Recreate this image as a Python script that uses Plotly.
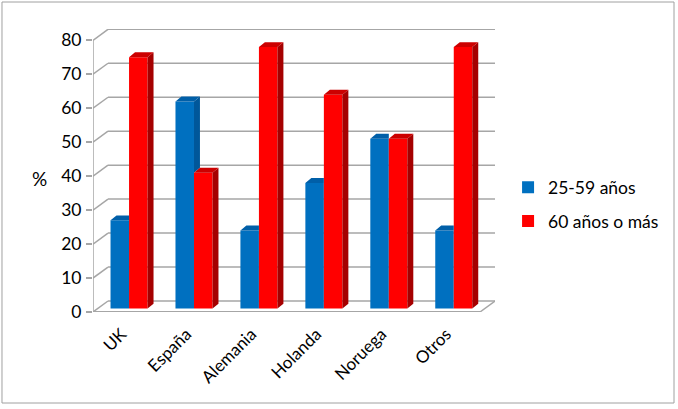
import plotly.graph_objects as go

# ---- data ----
categories = ["UK", "España", "Alemania", "Holanda", "Noruega", "Otros"]
serie_25_59 = [26, 61, 23, 37, 50, 23]
serie_60_mas = [74, 40, 77, 63, 50, 77]
series_names = ["25-59 años", "60 años o más"]
y_ticks = [0, 10, 20, 30, 40, 50, 60, 70, 80]

# ---- style / geometry of the pseudo-3D look ----
FONT = "Lato"
BLUE, BLUE_SIDE, BLUE_TOP = "#0070C0", "#00579A", "#005FA8"
RED, RED_SIDE, RED_TOP = "#FF0000", "#A50000", "#CC0000"
GRID = "#A6A6A6"

X0, X1 = -0.54, 5.65        # x range
Y1 = 83.33                   # y range top
WALL_DX, WALL_DY = 0.231, 3.24   # back wall offset
BAR_BASE = 1.0               # bars sit mid-depth
BAR_W = 0.285
OFF_BLUE, OFF_RED = -0.27, 0.015
DDX, DDY = 0.092, 1.45       # bar depth
LABEL_SHIFT = -0.1

n = len(categories)
xs = list(range(n))

fig = go.Figure()

# front faces
fig.add_trace(go.Bar(x=xs, y=serie_25_59, base=BAR_BASE, width=BAR_W, offset=OFF_BLUE,
                     marker=dict(color=BLUE, line=dict(width=0)), name=series_names[0],
                     legendgroup="a", hoverinfo="skip"))
fig.add_trace(go.Bar(x=xs, y=serie_60_mas, base=BAR_BASE, width=BAR_W, offset=OFF_RED,
                     marker=dict(color=RED, line=dict(width=0)), name=series_names[1],
                     legendgroup="b", hoverinfo="skip"))


def poly_trace(pts_list, color):
    px, py = [], []
    for pts in pts_list:
        for (a, b) in pts:
            px.append(a)
            py.append(b)
        px.append(pts[0][0]); py.append(pts[0][1])
        px.append(None); py.append(None)
    return go.Scatter(x=px, y=py, mode="lines", fill="toself", fillcolor=color,
                      line=dict(width=0, color=color), showlegend=False, hoverinfo="skip")


# blue side + top faces (clipped where hidden by red bar)
blue_sides, blue_tops = [], []
for i, (vb, vr) in enumerate(zip(serie_25_59, serie_60_mas)):
    xl = i + OFF_BLUE
    xr = xl + BAR_W
    tb = BAR_BASE + vb
    if vb > vr:
        ylo = BAR_BASE + vr
        blue_sides.append([(xr, ylo), (xr + DDX, ylo + DDY), (xr + DDX, tb + DDY), (xr, tb)])
        blue_tops.append([(xl, tb), (xl + DDX, tb + DDY), (xr + DDX, tb + DDY), (xr, tb)])
    else:
        blue_tops.append([(xl, tb), (xl + DDX, tb + DDY), (xr, tb + DDY), (xr, tb)])
fig.add_trace(poly_trace(blue_sides, BLUE_SIDE))
fig.add_trace(poly_trace(blue_tops, BLUE_TOP))

red_sides, red_tops = [], []
for i, vr in enumerate(serie_60_mas):
    xl = i + OFF_RED
    xr = xl + BAR_W
    tr = BAR_BASE + vr
    red_sides.append([(xr, BAR_BASE), (xr + DDX, BAR_BASE + DDY), (xr + DDX, tr + DDY), (xr, tr)])
    red_tops.append([(xl, tr), (xl + DDX, tr + DDY), (xr + DDX, tr + DDY), (xr, tr)])
fig.add_trace(poly_trace(red_sides, RED_SIDE))
fig.add_trace(poly_trace(red_tops, RED_TOP))

# walls, floor and gridlines
shapes = []
for v in y_ticks:
    shapes.append(dict(type="line", xref="x", yref="y", x0=X0, y0=v, x1=X0 + WALL_DX, y1=v + WALL_DY,
                       line=dict(color=GRID, width=1.5), layer="below"))
    shapes.append(dict(type="line", xref="x", yref="y", x0=X0 + WALL_DX, y0=v + WALL_DY, x1=X1, y1=v + WALL_DY,
                       line=dict(color=GRID, width=1.5), layer="below"))
# floor front edge and right diagonal
shapes.append(dict(type="line", xref="x", yref="y", x0=X0, y0=0, x1=X1 - WALL_DX, y1=0,
                   line=dict(color=GRID, width=2), layer="below"))
shapes.append(dict(type="line", xref="x", yref="y", x0=X1 - WALL_DX, y0=0, x1=X1, y1=WALL_DY,
                   line=dict(color=GRID, width=1.5), layer="below"))
# vertical axis line
shapes.append(dict(type="line", xref="x", yref="y", x0=X0, y0=0, x1=X0, y1=max(y_ticks),
                   line=dict(color=GRID, width=1.5), layer="below"))
# outer chart border
shapes.append(dict(type="rect", xref="paper", yref="paper", x0=-0.2264, y0=-0.3216, x1=1.4453, y1=1.0954,
                   line=dict(color="#A0A0A0", width=1), layer="below"))

fig.update_layout(
    width=678, height=409,
    margin=dict(l=93, r=183, t=29, b=97),
    paper_bgcolor="white", plot_bgcolor="white",
    barmode="overlay",
    font=dict(family=FONT, size=17, color="black"),
    shapes=shapes,
    showlegend=True,
    legend=dict(x=1.0325, y=0.38, xanchor="left", yanchor="middle",
                font=dict(family=FONT, size=17.5, color="black"),
                tracegroupgap=8, bgcolor="rgba(0,0,0,0)"),
    annotations=[dict(text="%", xref="paper", yref="y", x=-0.132, y=39.3, showarrow=False,
                      xanchor="center", yanchor="middle",
                      font=dict(family=FONT, size=19, color="black"))],
)
fig.update_xaxes(range=[X0, X1], tickvals=[i + LABEL_SHIFT for i in xs], ticktext=categories,
                 tickangle=-45, showgrid=False, zeroline=False, showline=False, ticks="",
                 ticklabelstandoff=8,
                 tickfont=dict(family=FONT, size=17, color="black"))
fig.update_yaxes(range=[0, Y1], tickvals=y_ticks, showgrid=False, zeroline=False, showline=False,
                 ticks="outside", ticklen=6, tickcolor=GRID, tickwidth=1.5,
                 ticklabelstandoff=1,
                 tickfont=dict(family=FONT, size=17.5, color="black"))

fig.write_html("out.html", config={"displayModeBar": False},
               post_script="document.body.style.margin='0';")
